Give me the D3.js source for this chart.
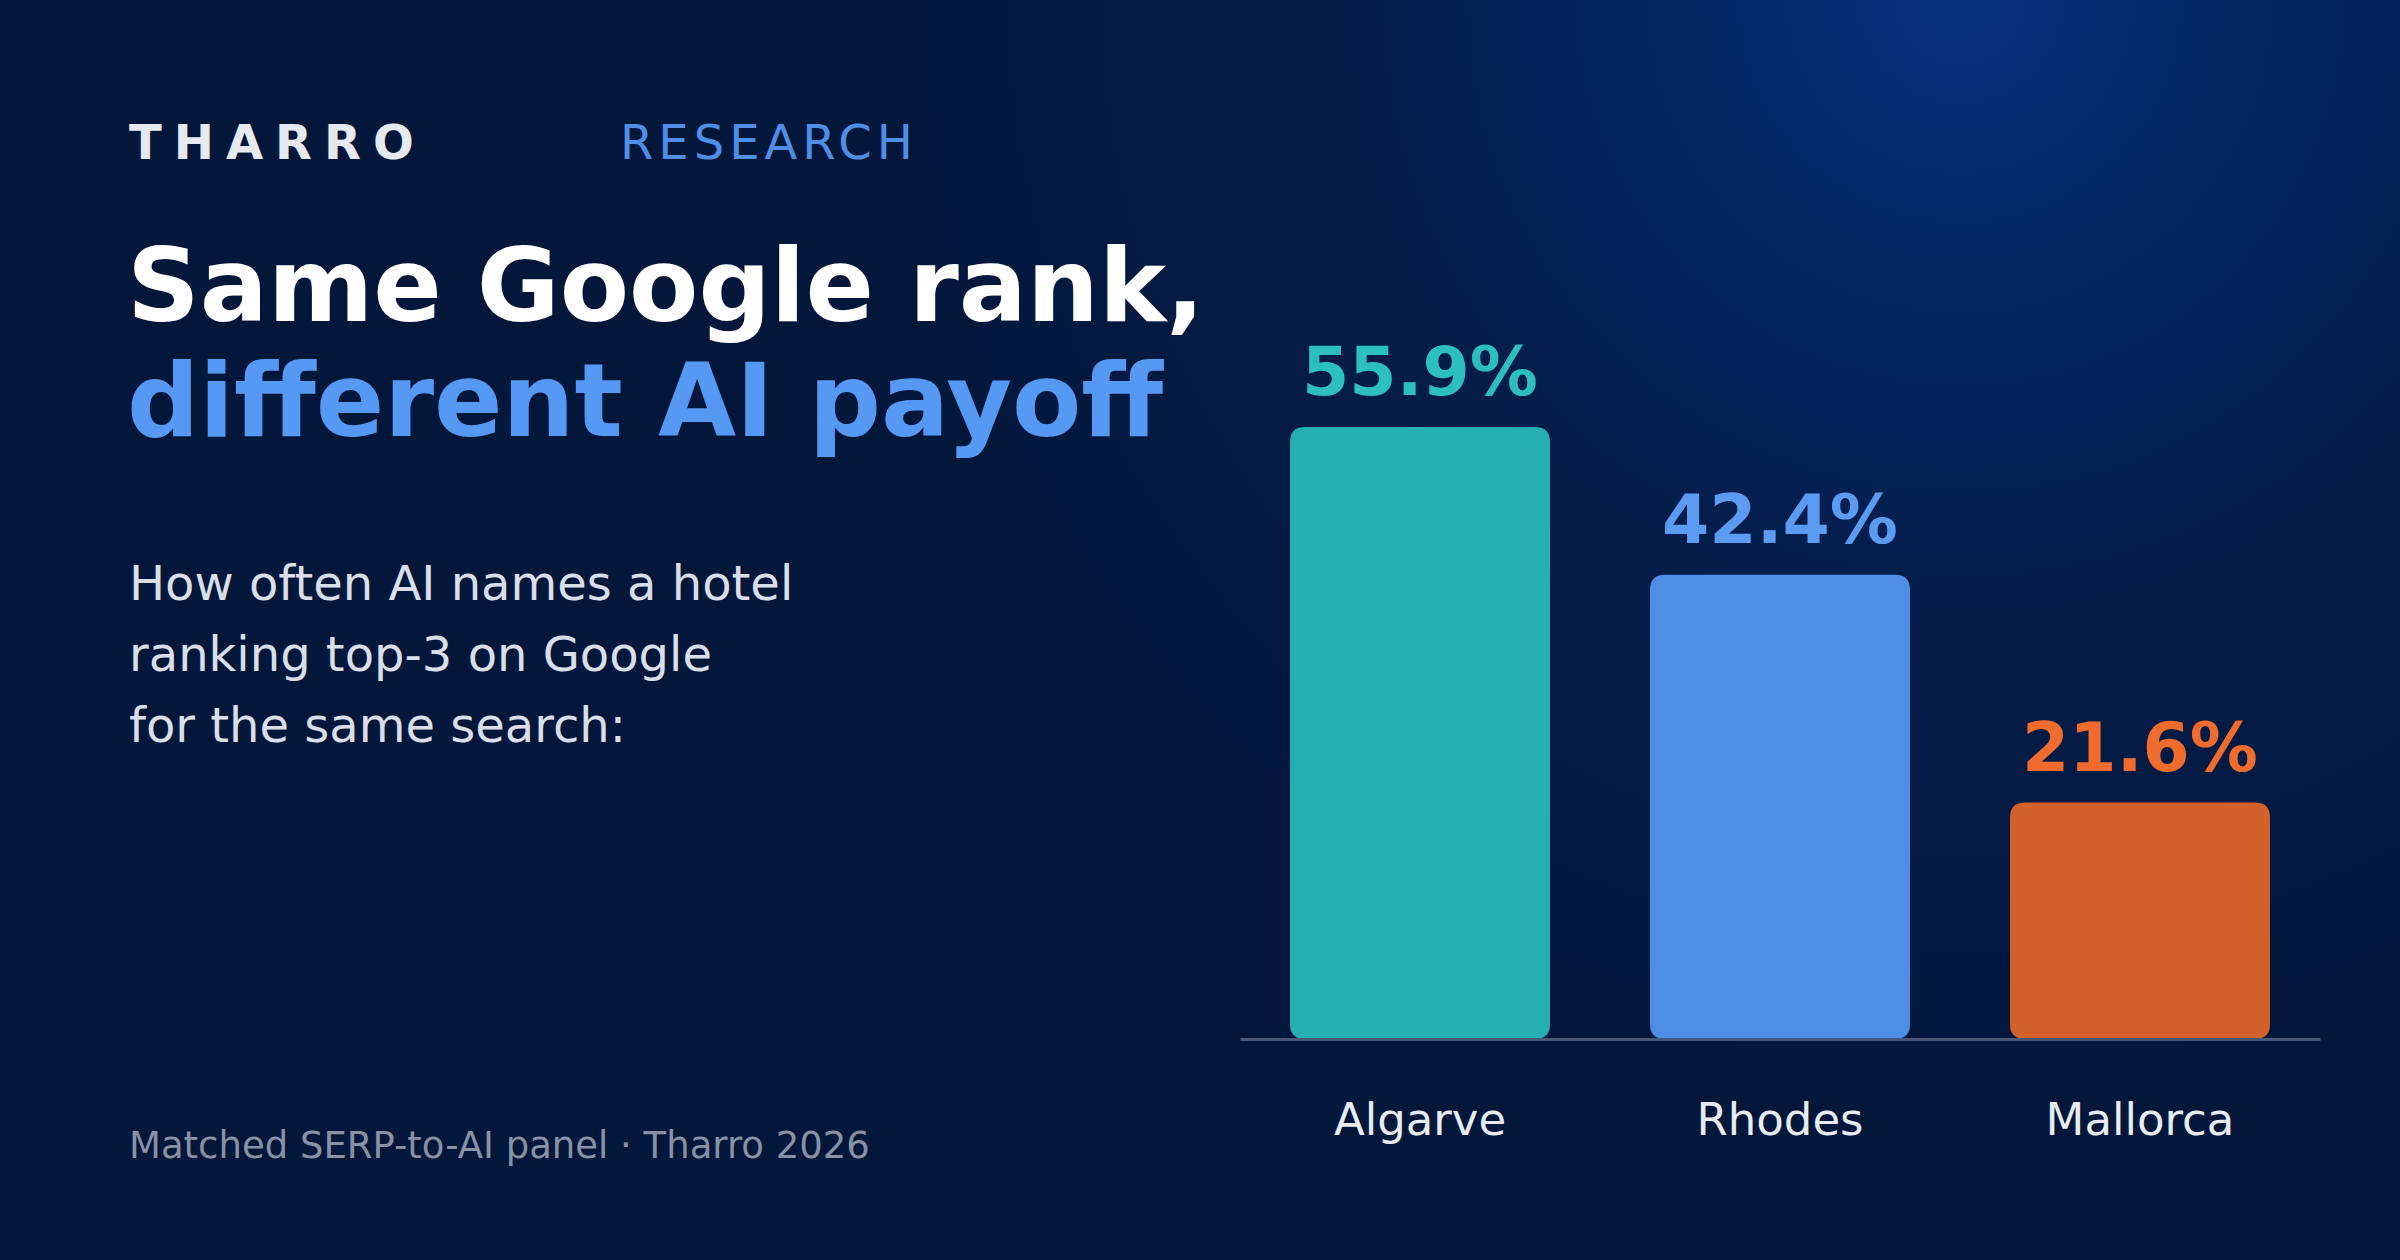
<!DOCTYPE html>
<html lang="en">
<head>
<meta charset="UTF-8">
<script src="https://d3js.org/d3.v7.min.js"></script>
<style>
  html, body { margin: 0; padding: 0; background: #03173a; }
  svg { display: block; font-family: "DejaVu Sans", sans-serif; }
</style>
</head>
<body>
<div id="chart"></div>
<script>
  // Data
  const regions = ["Algarve", "Rhodes", "Mallorca"];
  const shares = [55.9, 42.4, 21.6];
  const barColors = ["#25afb3", "#4e8de4", "#d2612c"];
  const labelColors = ["#2dbfc0", "#5b9cf2", "#ef6b2e"];

  const width = 2400, height = 1260;

  const svg = d3.select("#chart").append("svg")
    .attr("width", width).attr("height", height)
    .attr("viewBox", `0 0 ${width} ${height}`);

  // Background with glow top-right
  const defs = svg.append("defs");
  const glow = defs.append("radialGradient").attr("id", "glow")
    .attr("gradientUnits", "userSpaceOnUse")
    .attr("cx", 1960).attr("cy", 0).attr("r", 1100);
  glow.append("stop").attr("offset", "0%").attr("stop-color", "#05307a");
  glow.append("stop").attr("offset", "55%").attr("stop-color", "#041d4a");
  glow.append("stop").attr("offset", "100%").attr("stop-color", "#03173a");

  svg.append("rect").attr("width", width).attr("height", height).attr("fill", "#03173a");
  svg.append("rect").attr("width", width).attr("height", height).attr("fill", "url(#glow)");

  // Header
  svg.append("text").attr("x", 129).attr("y", 159)
    .attr("font-size", 48).attr("font-weight", "bold").attr("letter-spacing", 12)
    .attr("fill", "#e6e9ef").text("THARRO");
  svg.append("text").attr("x", 620).attr("y", 159)
    .attr("font-size", 48).attr("letter-spacing", 5)
    .attr("fill", "#4f8ee6").text("RESEARCH");

  svg.append("text").attr("x", 127).attr("y", 321)
    .attr("font-size", 101).attr("font-weight", "bold")
    .attr("fill", "#ffffff").text("Same Google rank,");
  svg.append("text").attr("x", 127).attr("y", 436)
    .attr("font-size", 101).attr("font-weight", "bold")
    .attr("fill", "#5599f5").text("different AI payoff");

  const sub = ["How often AI names a hotel", "ranking top-3 on Google", "for the same search:"];
  svg.append("text").attr("x", 129).attr("y", 600)
    .attr("font-size", 48).attr("fill", "#d9dee8")
    .selectAll("tspan").data(sub).join("tspan")
    .attr("x", 129).attr("dy", (d, i) => i === 0 ? 0 : 71).text(d => d);

  svg.append("text").attr("x", 129).attr("y", 1158)
    .attr("font-size", 37).attr("fill", "#8891a6")
    .text("Matched SERP-to-AI panel · Tharro 2026");

  // Scales
  const x = d3.scaleBand().domain(regions).range([1240, 2320])
    .paddingInner(0.2778).paddingOuter(0.1389);
  const y = d3.scaleLinear().domain([0, 55.9]).range([1039, 427]);

  const bars = svg.append("g").selectAll("g").data(regions).join("g");

  bars.append("path")
    .attr("fill", (d, i) => barColors[i])
    .attr("d", (d, i) => {
      const x0 = x(d), w = x.bandwidth(), y0 = y(shares[i]), y1 = y(0), r = 15;
      return `M${x0},${y1 - r} V${y0 + r} Q${x0},${y0} ${x0 + r},${y0} H${x0 + w - r} Q${x0 + w},${y0} ${x0 + w},${y0 + r} V${y1 - r} Q${x0 + w},${y1} ${x0 + w - r},${y1} H${x0 + r} Q${x0},${y1} ${x0},${y1 - r} Z`;
    });

  bars.append("text")
    .attr("x", d => x(d) + x.bandwidth() / 2)
    .attr("y", (d, i) => y(shares[i]) - 32)
    .attr("text-anchor", "middle").attr("font-size", 68).attr("font-weight", "bold")
    .attr("fill", (d, i) => labelColors[i])
    .text((d, i) => `${shares[i].toFixed(1)}%`);

  // Axis
  const axis = svg.append("g").attr("transform", `translate(0,${y(0)})`)
    .call(d3.axisBottom(x).tickSize(0).tickPadding(64));
  axis.select(".domain").attr("stroke", "#4a5878").attr("stroke-width", 3);
  axis.selectAll("text").attr("font-size", 45).attr("fill", "#e8ecf2")
    .attr("font-family", "DejaVu Sans, sans-serif");
</script>
</body>
</html>
